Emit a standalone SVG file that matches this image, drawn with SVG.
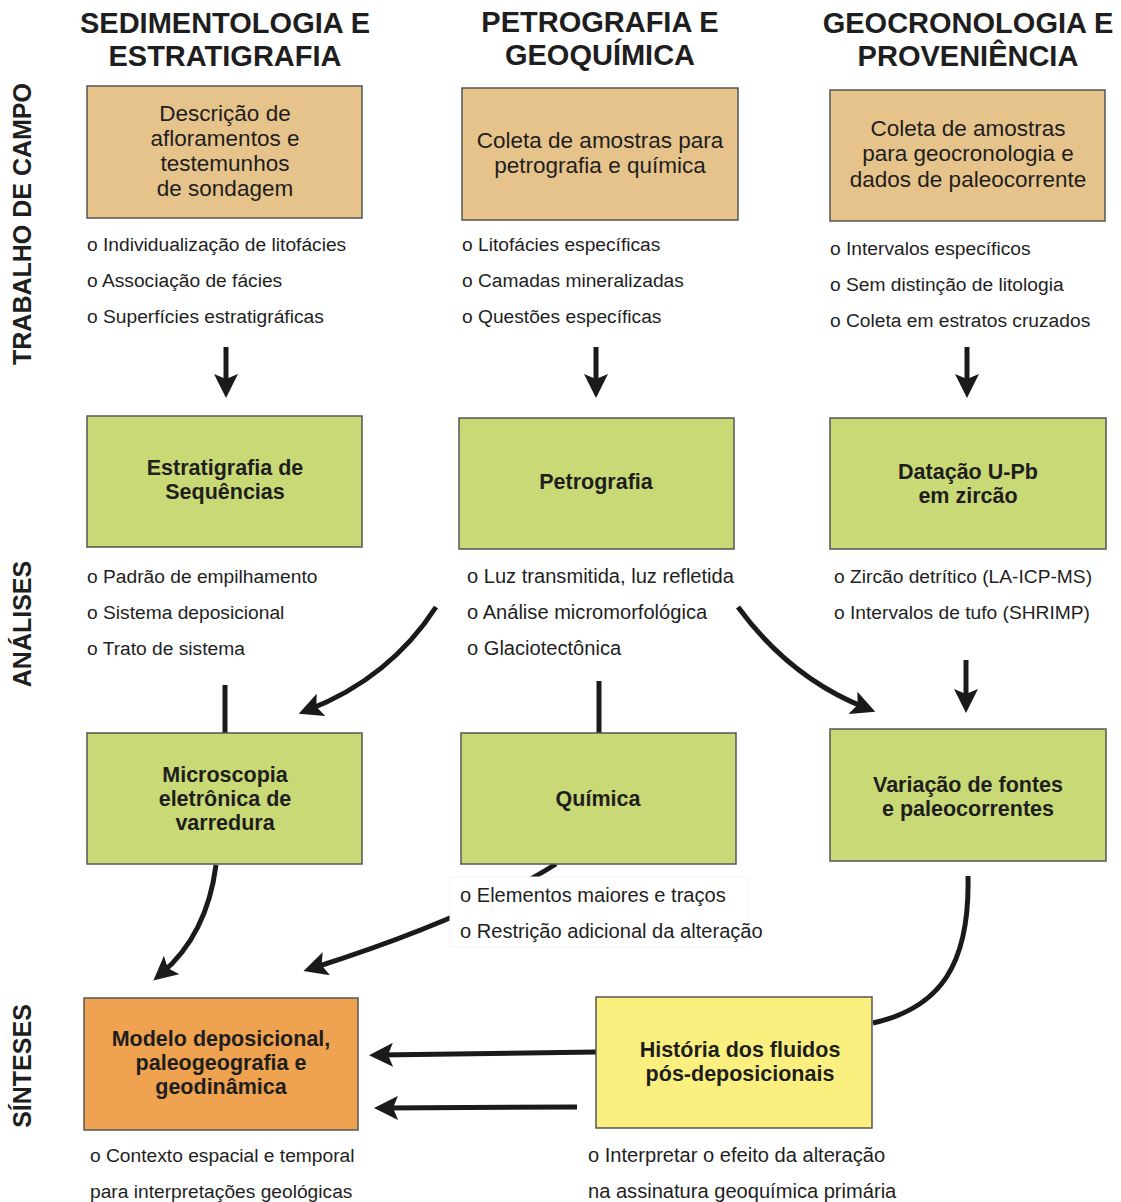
<svg xmlns="http://www.w3.org/2000/svg" width="1121" height="1202" viewBox="0 0 1121 1202">
<defs>
<style>
text{font-family:"Liberation Sans",Arial,sans-serif;fill:#1e1e1e}
.hd{font-size:29px;font-weight:bold;text-anchor:middle}
.row{font-size:25px;font-weight:bold;text-anchor:middle}
.bt{font-size:22.5px;text-anchor:middle}
.bb{font-size:21.5px;font-weight:bold;text-anchor:middle}
.li{font-size:19.2px}
.lg{font-size:20.1px}
.box{stroke:#555;stroke-width:1.5}
.tan{fill:#E6C38A}
.grn{fill:#C9D975}
.org{fill:#EFA24F}
.yel{fill:#FAEF7F}
.c{fill:none;stroke:#1a1a1a;stroke-width:5}
.a{marker-end:url(#ah)}
</style>
<marker id="ah" markerUnits="userSpaceOnUse" markerWidth="24" markerHeight="24" viewBox="0 0 24 24" refX="14" refY="12" orient="auto">
<path d="M0,0 L24,12 L0,24 L5,12 z" fill="#1a1a1a"/>
</marker>
</defs>
<rect width="1121" height="1202" fill="#fff"/>

<g id="headers">
<text class="hd" x="225" y="33">SEDIMENTOLOGIA E</text>
<text class="hd" x="225" y="66">ESTRATIGRAFIA</text>
<text class="hd" x="600" y="32">PETROGRAFIA E</text>
<text class="hd" x="600" y="65">GEOQUÍMICA</text>
<text class="hd" x="968" y="33">GEOCRONOLOGIA E</text>
<text class="hd" x="968" y="66">PROVENIÊNCIA</text>
</g>
<g id="row-labels">
<text class="row" transform="translate(31,224) rotate(-90)">TRABALHO DE CAMPO</text>
<text class="row" transform="translate(31,624) rotate(-90)">ANÁLISES</text>
<text class="row" transform="translate(31,1066) rotate(-90)">SÍNTESES</text>
</g>

<g id="connectors">
<path class="c a" d="M226,347 V388"/>
<path class="c a" d="M596,347 V388"/>
<path class="c a" d="M967,347 V388"/>
<path class="c" d="M225,685 V733"/>
<path class="c" d="M599,681 V733"/>
<path class="c a" d="M436,607 Q390,678 308,710"/>
<path class="c a" d="M738,607 Q790,678 866,708"/>
<path class="c a" d="M966,660 V703"/>
<path class="c a" d="M216,865 Q207,935 161,974"/>
<path class="c a" d="M556,864 Q470,918 313,968"/>
<path class="c" d="M968,876 C970,965 940,1008 873,1023"/>
<path class="c a" d="M596,1052 L379,1055"/>
<path class="c a" d="M577,1107 L384,1108"/>
</g>

<g id="n-descricao">
<rect class="box tan" x="87" y="86" width="275" height="132"/>
<text class="bt" x="225" y="121">Descrição de</text>
<text class="bt" x="225" y="146">afloramentos e</text>
<text class="bt" x="225" y="171">testemunhos</text>
<text class="bt" x="225" y="196">de sondagem</text>
</g>
<g id="n-coleta-petro">
<rect class="box tan" x="462" y="88" width="276" height="132"/>
<text class="bt" x="600" y="148">Coleta de amostras para</text>
<text class="bt" x="600" y="173">petrografia e química</text>
</g>
<g id="n-coleta-geo">
<rect class="box tan" x="830" y="90" width="275" height="131"/>
<text class="bt" x="968" y="136">Coleta de amostras</text>
<text class="bt" x="968" y="161">para geocronologia e</text>
<text class="bt" x="968" y="187">dados de paleocorrente</text>
</g>

<g id="list-campo">
<text class="li" x="87" y="251">o Individualização de litofácies</text>
<text class="li" x="87" y="287">o Associação de fácies</text>
<text class="li" x="87" y="323">o Superfícies estratigráficas</text>
<text class="li" x="462" y="251">o Litofácies específicas</text>
<text class="li" x="462" y="287">o Camadas mineralizadas</text>
<text class="li" x="462" y="323">o Questões específicas</text>
<text class="li" x="830" y="255">o Intervalos específicos</text>
<text class="li" x="830" y="291">o Sem distinção de litologia</text>
<text class="li" x="830" y="327">o Coleta em estratos cruzados</text>
</g>

<g id="n-estratigrafia">
<rect class="box grn" x="87" y="416" width="275" height="131"/>
<text class="bb" x="225" y="475">Estratigrafia de</text>
<text class="bb" x="225" y="499">Sequências</text>
</g>
<g id="n-petrografia">
<rect class="box grn" x="459" y="418" width="275" height="131"/>
<text class="bb" x="596" y="489">Petrografia</text>
</g>
<g id="n-datacao">
<rect class="box grn" x="830" y="418" width="276" height="131"/>
<text class="bb" x="968" y="479">Datação U-Pb</text>
<text class="bb" x="968" y="503">em zircão</text>
</g>

<g id="list-analises">
<text class="li" x="87" y="583">o Padrão de empilhamento</text>
<text class="li" x="87" y="619">o Sistema deposicional</text>
<text class="li" x="87" y="655">o Trato de sistema</text>
<text class="lg" x="467" y="583">o Luz transmitida, luz refletida</text>
<text class="lg" x="467" y="619">o Análise micromorfológica</text>
<text class="lg" x="467" y="655">o Glaciotectônica</text>
<text class="li" x="834" y="583">o Zircão detrítico (LA-ICP-MS)</text>
<text class="li" x="834" y="619">o Intervalos de tufo (SHRIMP)</text>
</g>

<g id="n-microscopia">
<rect class="box grn" x="87" y="733" width="275" height="131"/>
<text class="bb" x="225" y="782">Microscopia</text>
<text class="bb" x="225" y="806">eletrônica de</text>
<text class="bb" x="225" y="830">varredura</text>
</g>
<g id="n-quimica">
<rect class="box grn" x="461" y="733" width="275" height="131"/>
<text class="bb" x="598" y="806">Química</text>
</g>
<g id="n-variacao">
<rect class="box grn" x="830" y="729" width="276" height="132"/>
<text class="bb" x="968" y="792">Variação de fontes</text>
<text class="bb" x="968" y="816">e paleocorrentes</text>
</g>

<g id="list-quimica">
<rect x="450" y="877" width="298" height="70" fill="#fff" stroke="#f4f4f4" stroke-width="1"/>
<text class="lg" x="460" y="902">o Elementos maiores e traços</text>
<text class="lg" x="460" y="938">o Restrição adicional da alteração</text>
</g>

<g id="n-modelo">
<rect class="box org" x="84" y="998" width="274" height="132"/>
<text class="bb" x="221" y="1046">Modelo deposicional,</text>
<text class="bb" x="221" y="1070">paleogeografia e</text>
<text class="bb" x="221" y="1094">geodinâmica</text>
</g>
<g id="n-historia">
<rect class="box yel" x="596" y="997" width="276" height="131"/>
<text class="bb" x="740" y="1057">História dos fluidos</text>
<text class="bb" x="740" y="1081">pós-deposicionais</text>
</g>

<g id="list-sinteses">
<text class="li" x="90" y="1162">o Contexto espacial e temporal</text>
<text class="li" x="90" y="1198">para interpretações geológicas</text>
<text class="lg" x="588" y="1162">o Interpretar o efeito da alteração</text>
<text class="lg" x="588" y="1198">na assinatura geoquímica primária</text>
</g>
</svg>
